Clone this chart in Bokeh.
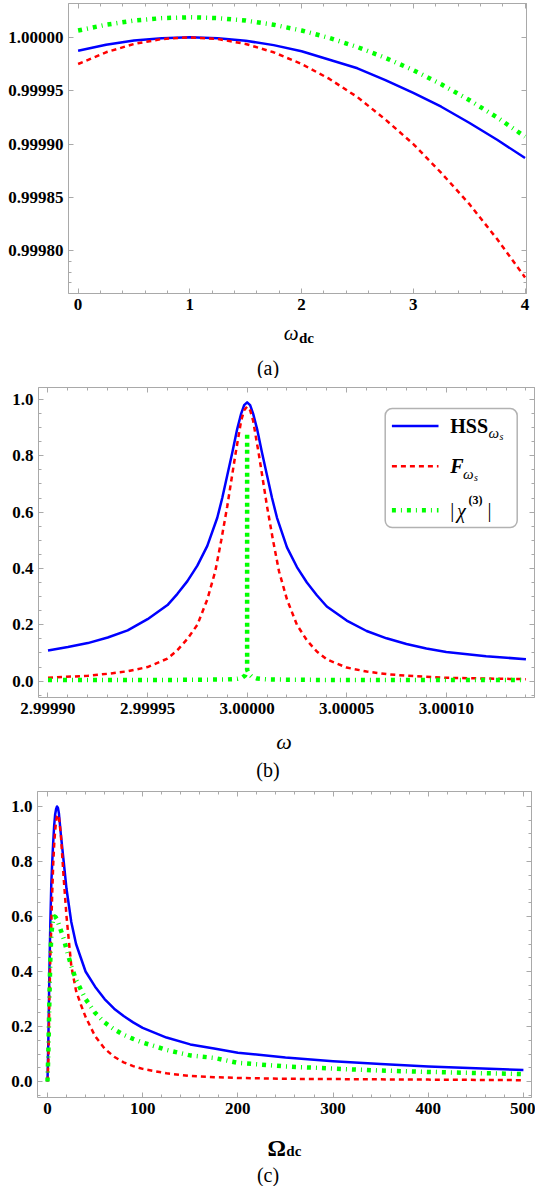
from bokeh.plotting import figure
from bokeh.models import (LinearAxis, FixedTicker, Label, BoxAnnotation, Arrow,
                          Range1d, PrintfTickFormatter)
from bokeh.embed import file_html
from bokeh.resources import INLINE

# ---------------- data: panel (a) ----------------
a_wdc = [0, 0.25, 0.5, 0.75, 1, 1.25, 1.5, 1.75, 2, 2.25, 2.5, 2.75, 3, 3.25, 3.5, 3.75, 4]
a_hss = [0.9999875, 0.999993, 0.999997, 0.9999992, 1.0, 0.9999992, 0.9999968, 0.9999927,
         0.999987, 0.999979, 0.999971, 0.99996, 0.999948, 0.999935, 0.99992, 0.999904, 0.999887]
a_f = [0.999975, 0.999986, 0.9999938, 0.9999984, 1.0, 0.9999984, 0.9999938, 0.999986,
       0.999975, 0.999961, 0.999944, 0.999923, 0.9999, 0.999873, 0.999844, 0.999811, 0.999775]
a_chi = [1.0000064, 1.0000118, 1.0000157, 1.000018, 1.0000188, 1.000018, 1.0000157, 1.0000118,
         1.0000064, 0.9999994, 0.9999909, 0.9999808, 0.9999692, 0.999956, 0.9999413, 0.999925, 0.999907]

# ---------------- data: panel (b) (detuning in units of 1e-5 around omega = 3) ----------------
b_center = 3.0
b_dw_hss = [-10, -9, -8, -7, -6, -5, -4, -3.5, -3, -2.5, -2, -1.5, -1.25, -1, -0.75, -0.5, -0.3,
            -0.15, 0, 0.15, 0.3, 0.5, 0.75, 1, 1.25, 1.5, 2, 2.5, 3, 3.5, 4, 5, 6, 7, 8, 9, 10, 12, 14]
b_hss = [0.109, 0.121, 0.135, 0.155, 0.18, 0.22, 0.27, 0.31, 0.355, 0.41, 0.48, 0.58, 0.65, 0.73,
         0.81, 0.895, 0.95, 0.98, 0.99,
         0.98, 0.95, 0.895, 0.81, 0.73, 0.65, 0.58, 0.475, 0.405, 0.35, 0.305, 0.265, 0.215, 0.178,
         0.152, 0.132, 0.116, 0.103, 0.088, 0.078]
b_dw_f = [-10, -8, -7, -6, -5, -4, -3.5, -3, -2.5, -2, -1.6, -1.3, -1, -0.6, -0.3, -0.15, 0,
          0.15, 0.3, 0.6, 1, 1.3, 1.6, 2, 2.5, 3, 3.5, 4, 5, 6, 7, 8, 10, 12, 14]
b_f = [0.012, 0.019, 0.026, 0.035, 0.05, 0.08, 0.11, 0.15, 0.2, 0.29, 0.39, 0.5, 0.62, 0.8, 0.925,
       0.962, 0.975,
       0.962, 0.925, 0.8, 0.62, 0.5, 0.39, 0.29, 0.2, 0.145, 0.105, 0.077, 0.048, 0.034, 0.025,
       0.019, 0.012, 0.009, 0.007]
b_dw_chi = [-10, -8, -6, -4, -2, -1, -0.5, -0.25, -0.1, -0.001, 0, 0.001, 0.1, 0.25, 0.5, 1, 2, 4,
            6, 8, 10, 12, 14]
b_chi = [0.004, 0.004, 0.004, 0.004, 0.005, 0.006, 0.008, 0.012, 0.02, 0.04, 0.88, 0.04, 0.025, 0.015,
         0.009, 0.006, 0.005, 0.004, 0.004, 0.004, 0.004, 0.004, 0.004]

# ---------------- data: panel (c) ----------------
c_Odc = [0, 1, 2, 3, 4, 5, 6, 7, 8, 9, 10, 11, 12, 14, 17, 20, 25, 30, 35, 40, 50, 60, 70, 80, 90,
         100, 125, 150, 175, 200, 250, 300, 350, 400, 450, 500]
c_hss = [0.0, 0.17, 0.4, 0.58, 0.72, 0.8, 0.87, 0.93, 0.97, 0.99, 1.0, 0.995, 0.975, 0.9, 0.8, 0.7,
         0.58, 0.5, 0.45, 0.4, 0.345, 0.3, 0.265, 0.238, 0.215, 0.195, 0.16, 0.135, 0.12, 0.105,
         0.087, 0.074, 0.064, 0.055, 0.048, 0.042]
c_f = [0.0, 0.08, 0.3, 0.45, 0.57, 0.69, 0.79, 0.86, 0.91, 0.945, 0.965, 0.97, 0.96, 0.9, 0.74, 0.6,
       0.42, 0.33, 0.28, 0.235, 0.165, 0.12, 0.09, 0.07, 0.056, 0.046, 0.03, 0.02, 0.016, 0.013,
       0.01, 0.009, 0.008, 0.007, 0.006, 0.005]
c_chi = [0.0, 0.12, 0.3, 0.45, 0.53, 0.57, 0.59, 0.6, 0.6, 0.595, 0.59, 0.58, 0.57, 0.55, 0.52, 0.48,
         0.42, 0.37, 0.335, 0.3, 0.25, 0.215, 0.19, 0.17, 0.155, 0.142, 0.115, 0.095, 0.086, 0.068,
         0.055, 0.047, 0.04, 0.035, 0.031, 0.027]

# ---------------- tick labels ----------------
a_xticks = [0, 1, 2, 3, 4]
a_yticks = [0.9998, 0.99985, 0.9999, 0.99995, 1.0]
b_xticks = [2.9999, 2.99995, 3.0, 3.00005, 3.0001]
b_yticks = [0.0, 0.2, 0.4, 0.6, 0.8, 1.0]
c_xticks = [0, 100, 200, 300, 400, 500]
c_yticks = [0.0, 0.2, 0.4, 0.6, 0.8, 1.0]

BLUE, RED, GREEN = "#0000ff", "#ff0000", "#00ff00"
FRAME = "#a9a9a9"
SERIF = "Liberation Serif"
W = 535
RED_DASH = "5 4"
GREEN_DASH = "4 5 1 5"


def plain_axes(p, ticks, minors, loc):
    # tick marks only (no labels), as on a Mathematica frame
    for tl, length in ((ticks, 5), (minors, 3)):
        ax = LinearAxis(ticker=FixedTicker(ticks=[], minor_ticks=tl))
        ax.axis_line_color = FRAME
        ax.minor_tick_line_color = FRAME
        ax.major_tick_line_color = None
        ax.minor_tick_in = length
        ax.minor_tick_out = 0
        ax.major_tick_in = 0
        ax.major_tick_out = 0
        ax.major_label_standoff = 0
        p.add_layout(ax, loc)


def setup_axes(p, xt, xm, yt, ym, xfmt, yfmt, fs="17px"):
    p.xgrid.visible = False
    p.ygrid.visible = False
    p.outline_line_color = None
    bx = p.xaxis[0]
    ly = p.yaxis[0]
    bx.ticker = FixedTicker(ticks=xt, minor_ticks=xm)
    ly.ticker = FixedTicker(ticks=yt, minor_ticks=ym)
    if xfmt:
        bx.formatter = PrintfTickFormatter(format=xfmt)
    if yfmt:
        ly.formatter = PrintfTickFormatter(format=yfmt)
    for ax in (bx, ly):
        ax.axis_line_color = FRAME
        ax.major_tick_line_color = FRAME
        ax.minor_tick_line_color = FRAME
        ax.major_tick_in = 5
        ax.major_tick_out = 0
        ax.minor_tick_in = 3
        ax.minor_tick_out = 0
        ax.major_label_text_font = SERIF
        ax.major_label_text_font_style = "bold"
        ax.major_label_text_font_size = fs
        ax.major_label_text_color = "black"
        ax.major_label_standoff = 5
    plain_axes(p, xt, xm, "above")
    plain_axes(p, yt, ym, "right")


def lbl(p, x, y, text, size, style="normal", align="left", baseline="middle", color="black"):
    p.add_layout(Label(x=x, y=y, x_units="screen", y_units="screen", text=text,
                       text_font=SERIF, text_font_size=size, text_font_style=style,
                       text_align=align, text_baseline=baseline, text_color=color))


def fig(h, xr, yr, bl, br, bt, bb):
    p = figure(width=W, height=h, x_range=Range1d(*xr), y_range=Range1d(*yr),
               output_backend="svg", toolbar_location=None,
               min_border_left=bl, min_border_right=br, min_border_top=bt, min_border_bottom=bb)
    p.background_fill_color = "white"
    p.border_fill_color = "white"
    return p


def caption_fig(h):
    p = figure(width=W, height=h, x_range=Range1d(0, W), y_range=Range1d(0, h),
               output_backend="svg", toolbar_location=None, min_border=0,
               x_axis_location=None, y_axis_location=None)
    p.outline_line_color = None
    p.grid.visible = False
    p.background_fill_color = "white"
    p.border_fill_color = "white"
    return p


# ================= panel (a) =================  (page rows 0..378)
pa = fig(320, (-0.086, 4.013), (0.99976, 1.0000317), 68, 9, 3, 27)
setup_axes(pa, a_xticks, [i * 0.2 for i in range(0, 21)],
           a_yticks, [0.99976 + i * 0.00001 for i in range(0, 5)], None, "%.5f", "17px")
pa.line(a_wdc, a_hss, line_color=BLUE, line_width=2.5)
pa.line(a_wdc, a_f, line_color=RED, line_width=2.5, line_dash=RED_DASH)
pa.line(a_wdc, a_chi, line_color=GREEN, line_width=4.5, line_dash=GREEN_DASH)

ca = caption_fig(58)
lbl(ca, 298, 46, "ω", "21px", "italic", "right", "alphabetic")
lbl(ca, 298.5, 41, "dc", "15px", "bold", "left", "alphabetic")
lbl(ca, 267.5, 11, "(a)", "20px", "normal", "center", "middle")

# ================= panel (b) =================  (page rows 378..782)
b_w_hss = [b_center + d * 1e-5 for d in b_dw_hss]
b_w_f = [b_center + d * 1e-5 for d in b_dw_f]
b_w_chi = [b_center + d * 1e-5 for d in b_dw_chi]
pb = fig(345, (2.99989523, 3.0001443), (-0.0582, 1.0426), 38, 1, 9, 26)
setup_axes(pb, b_xticks, [2.9999 + i * 1e-5 for i in range(0, 25)],
           b_yticks, [-0.05 + i * 0.05 for i in range(0, 22)], "%.5f", "%.1f", "17px")
pb.line(b_w_hss, b_hss, line_color=BLUE, line_width=2.5, line_join="round")
pb.line(b_w_f, b_f, line_color=RED, line_width=2.5, line_dash=RED_DASH)
pb.line(b_w_chi, b_chi, line_color=GREEN, line_width=4.5, line_dash=GREEN_DASH)

# legend of (b)
pb.add_layout(BoxAnnotation(left=346.7, right=478.7, top=288.9, bottom=170,
                            left_units="screen", right_units="screen",
                            top_units="screen", bottom_units="screen",
                            fill_color="white", fill_alpha=1.0, line_color="black",
                            line_width=1.5, border_radius=7))
for yy, col, dash, lw in ((271.4, BLUE, "solid", 2.5), (231.2, RED, RED_DASH, 2.5),
                          (187.2, GREEN, GREEN_DASH, 4.5)):
    pb.add_layout(Arrow(start=None, end=None, x_start=353.4, y_start=yy, x_end=400, y_end=yy,
                        start_units="screen", end_units="screen",
                        line_color=col, line_width=lw, line_dash=dash))
lbl(pb, 411.7, 271.4, "HSS", "20px", "bold")
lbl(pb, 450.0, 264.4, "ω", "15px", "italic")
lbl(pb, 461.0, 261.0, "s", "10px", "italic")
lbl(pb, 411.7, 231.2, "F", "20px", "bold italic")
lbl(pb, 424.4, 223.2, "ω", "15px", "italic")
lbl(pb, 435.5, 220.0, "s", "10px", "italic")
lbl(pb, 411.7, 187.2, "|", "20px", "normal")
lbl(pb, 418.4, 186.2, "χ", "20px", "italic")
lbl(pb, 430.0, 197.2, "(3)", "12px", "bold")
lbl(pb, 449.0, 187.2, "|", "20px", "normal")

cb = caption_fig(59)
lbl(cb, 283.6, 41, "ω", "22px", "italic", "center", "alphabetic")
lbl(cb, 267.5, 12.4, "(b)", "20px", "normal", "center", "middle")

# ================= panel (c) =================  (page rows 782..1186)
pc = fig(341, (-10.5, 508.5), (-0.058, 1.0545), 37, 4, 9, 26)
setup_axes(pc, c_xticks, [i * 20 for i in range(0, 26)],
           c_yticks, [-0.05 + i * 0.05 for i in range(0, 22)], None, "%.1f", "17px")
pc.line(c_Odc, c_hss, line_color=BLUE, line_width=2.5, line_join="round")
pc.line(c_Odc, c_f, line_color=RED, line_width=2.5, line_dash=RED_DASH)
pc.line(c_Odc, c_chi, line_color=GREEN, line_width=4.5, line_dash=GREEN_DASH)

cc = caption_fig(63)
lbl(cc, 285.3, 38.5, "Ω", "23px", "bold", "right", "alphabetic")
lbl(cc, 285.8, 35.5, "dc", "15px", "bold", "left", "alphabetic")
lbl(cc, 267.5, 11.2, "(c)", "20px", "normal", "center", "middle")

html = file_html([pa, ca, pb, cb, pc, cc], INLINE)
open("out.html", "w").write(html)
